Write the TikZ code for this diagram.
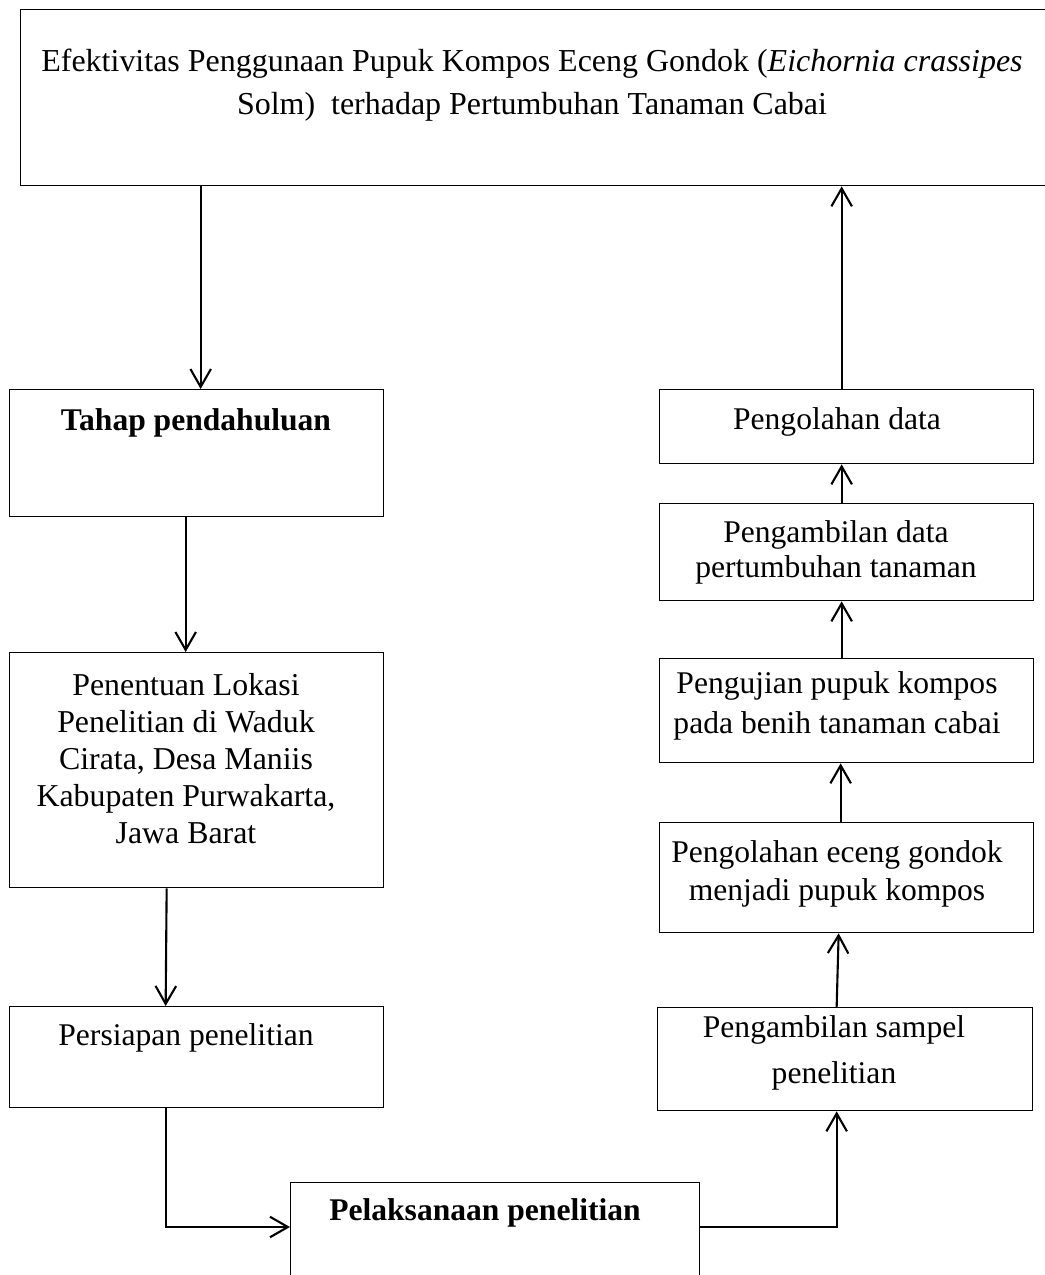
\documentclass[tikz,border=0pt]{standalone}
\usepackage{fontspec}
\setmainfont{Liberation Serif}
\usetikzlibrary{arrows.meta,calc}
\def\u{0.38pt}
\begin{document}
\begin{tikzpicture}[x=0.38pt,y=-0.38pt,
  box/.style={draw=black,line width=0.5pt,rectangle,inner sep=0pt,anchor=north west},
  txt/.style={inner sep=0pt,align=center},
  arr/.style={line width=0.8pt,-{Straight Barb[length=6.8pt,width=7.8pt,line width=0.8pt]}},
  ln/.style={line width=0.8pt}]
\useasboundingbox (0,0) rectangle (1045,1275);
\clip (0,0) rectangle (1045,1275);
% boxes
\node[box,minimum width=1032*\u,minimum height=176*\u] (top) at (20,9) {};
\node[box,minimum width=374*\u,minimum height=127*\u] (tahap) at (9,389) {};
\node[box,minimum width=374*\u,minimum height=235*\u] (penentuan) at (9,652) {};
\node[box,minimum width=374*\u,minimum height=101*\u] (persiapan) at (9,1006) {};
\node[box,minimum width=409*\u,minimum height=150*\u] (pelaksanaan) at (290,1182) {};
\node[box,minimum width=374*\u,minimum height=74*\u] (olahdata) at (659,389) {};
\node[box,minimum width=374*\u,minimum height=97*\u] (datapert) at (659,503) {};
\node[box,minimum width=374*\u,minimum height=104*\u] (pengujian) at (659,658) {};
\node[box,minimum width=374*\u,minimum height=110*\u] (eceng) at (659,822) {};
\node[box,minimum width=375*\u,minimum height=103*\u] (sampel) at (657,1007) {};
% texts
\node[txt,font=\fontsize{12.15}{16.3}\selectfont] (topT) at (532,85)
  {Efektivitas Penggunaan Pupuk Kompos Eceng Gondok (\textit{Eichornia crassipes}\\Solm)~ terhadap Pertumbuhan Tanaman Cabai};
\node[txt,font=\fontsize{12}{14}\bfseries] (tahapT) at (196,423) {Tahap pendahuluan};
\node[txt,font=\fontsize{12.1}{14.06}\selectfont] (penentuanT) at (186,759)
  {Penentuan Lokasi\\Penelitian di Waduk\\Cirata, Desa Maniis\\Kabupaten Purwakarta,\\Jawa Barat};
\node[txt,font=\fontsize{12}{14}\selectfont] (persiapanT) at (186,1038) {Persiapan penelitian};
\node[txt,font=\fontsize{12}{14}\bfseries] (pelaksanaanT) at (485,1213) {Pelaksanaan penelitian};
\node[txt,font=\fontsize{12}{14}\selectfont] (olahdataT) at (837,422) {Pengolahan data};
\node[txt,font=\fontsize{12}{13.3}\selectfont] (datapertT) at (836,552) {Pengambilan data\\pertumbuhan tanaman};
\node[txt,font=\fontsize{12}{15.2}\selectfont] (pengujianT) at (837,706) {Pengujian pupuk kompos\\pada benih tanaman cabai};
\node[txt,font=\fontsize{12}{14.4}\selectfont] (ecengT) at (837,874) {Pengolahan eceng gondok\\menjadi pupuk kompos};
\node[txt,font=\fontsize{12}{17.5}\selectfont] (sampelT) at (834,1053) {Pengambilan sampel\\penelitian};
% helper coordinates
\coordinate (c1) at ($(tahap.north)+(4,0)$);
\coordinate (pin) at ($(pelaksanaan.north west)+(0,45)$);
\coordinate (pout) at ($(pelaksanaan.north east)+(0,45)$);
\coordinate (c10) at ($(olahdata.north)+(-5,0)$);
% connectors
\draw[arr] (top.south -| c1) -- (c1);
\draw[arr] ($(tahap.south)+(-11,0)$) -- ($(penentuan.north)+(-11,0)$);
\draw[arr] ($(penentuan.south)+(-30,0)$) -- ($(persiapan.north)+(-31,0)$);
\draw[arr] ($(persiapan.south)+(-31,0)$) |- (pin);
\draw[arr] (pout) -| ($(sampel.south)+(-8.5,0)$);
\draw[arr] ($(sampel.north)+(-8.5,0)$) -- ($(eceng.south)+(-8,0)$);
\draw[arr] ($(eceng.north)+(-6,0)$) -- ($(pengujian.south)+(-6,0)$);
\draw[arr] ($(pengujian.north)+(-5,0)$) -- ($(datapert.south)+(-5,0)$);
\draw[arr] ($(datapert.north)+(-5,0)$) -- ($(olahdata.south)+(-5,0)$);
\draw[arr] (c10) -- (top.south -| c10);
\end{tikzpicture}
\end{document}
